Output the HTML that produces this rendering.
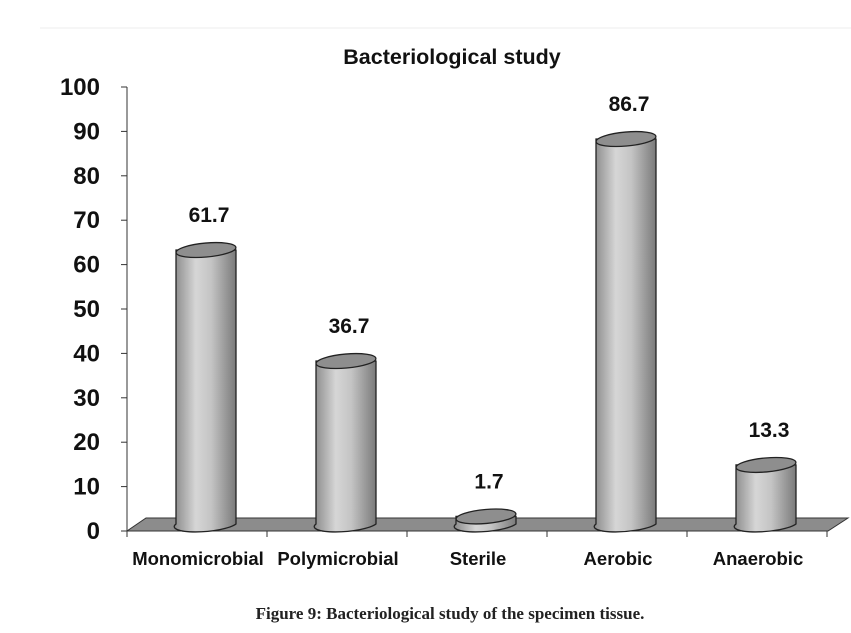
<!DOCTYPE html>
<html><head><meta charset="utf-8"><style>
body{margin:0;background:#fff;}
svg{display:block;font-family:"Liberation Sans",sans-serif;}
</style></head><body>
<svg width="851" height="633" viewBox="0 0 851 633">
<defs>
<linearGradient id="cyl" x1="0" x2="1" y1="0" y2="0">
<stop offset="0" stop-color="#8a8a8a"/><stop offset="0.35" stop-color="#d6d6d6"/><stop offset="0.6" stop-color="#c4c4c4"/><stop offset="1" stop-color="#7a7a7a"/>
</linearGradient>
</defs>
<line x1="40" y1="28" x2="851" y2="28" stroke="#eee" stroke-width="1"/>
<text x="452" y="64" text-anchor="middle" font-size="21.5" font-weight="bold" fill="#111">Bacteriological study</text>
<polygon points="127,531 146,518 848,518 828,531" fill="#8c8c8c" stroke="#333" stroke-width="1"/>
<line x1="127" y1="87" x2="127" y2="531" stroke="#333" stroke-width="1"/>
<line x1="127" y1="531" x2="828" y2="531" stroke="#333" stroke-width="1"/>
<g id="yticks"></g>
<g id="bars"></g>
<text x="450" y="619" text-anchor="middle" font-family="'Liberation Serif',serif" font-size="17" font-weight="bold" fill="#222">Figure 9: Bacteriological study of the specimen tissue.</text>
</svg>
<script>
const categories=["Monomicrobial","Polymicrobial","Sterile","Aerobic","Anaerobic"];
const values=[61.7,36.7,1.7,86.7,13.3];
const valueLabels=["61.7","36.7","1.7","86.7","13.3"];
const yTicks=[0,10,20,30,40,50,60,70,80,90,100];
const NS="http://www.w3.org/2000/svg";
function y(v){return 531-v*4.44;}
function yb(v){return 524-v*4.44;}
function xc(i){return 206+i*140;}
function mk(t,a,p){const e=document.createElementNS(NS,t);for(const k in a)e.setAttribute(k,a[k]);p.appendChild(e);return e;}
const yt=document.getElementById('yticks');
yTicks.forEach(v=>{
 const t=mk('text',{x:100,y:y(v)+8,'text-anchor':'end','font-size':24,'font-weight':'bold',fill:'#111'},yt);
 t.textContent=v;
 
 
 const l=mk('line',{x1:121,x2:127,y1:y(v),y2:y(v),stroke:'#333'},yt);
 
 
});
for(let i=0;i<=categories.length;i++){
 const l=mk('line',{x1:127+i*140,x2:127+i*140,y1:531,y2:537,stroke:'#333'},yt);
 
 
}
const g=document.getElementById('bars');
categories.forEach((c,i)=>{
 const cx=xc(i),top=yb(values[i]),base=524,rx=30,ry=7;
 const grp=mk('g',{},g);
 
 
 mk('path',{d:`M${cx-rx},${top} L${cx-rx},${base} A${rx},${ry} -5 0 0 ${cx+rx},${base} L${cx+rx},${top} Z`,fill:'url(#cyl)',stroke:'#222','stroke-width':1.3},grp);
 mk('ellipse',{cx:cx,cy:top,rx:rx,ry:ry,transform:`rotate(-5 ${cx} ${top})`,fill:'#8e8e8e',stroke:'#222','stroke-width':1.3},grp);
 const vl=mk('text',{x:cx+3,y:top-28,'text-anchor':'middle','font-size':21,'font-weight':'bold',fill:'#111'},g);
 vl.textContent=valueLabels[i];
 
 
 const cl=mk('text',{x:cx-8,y:565,'text-anchor':'middle','font-size':18.5,'font-weight':'bold',fill:'#111'},g);
 cl.textContent=c;
 
 
});
</script>
</body></html>
